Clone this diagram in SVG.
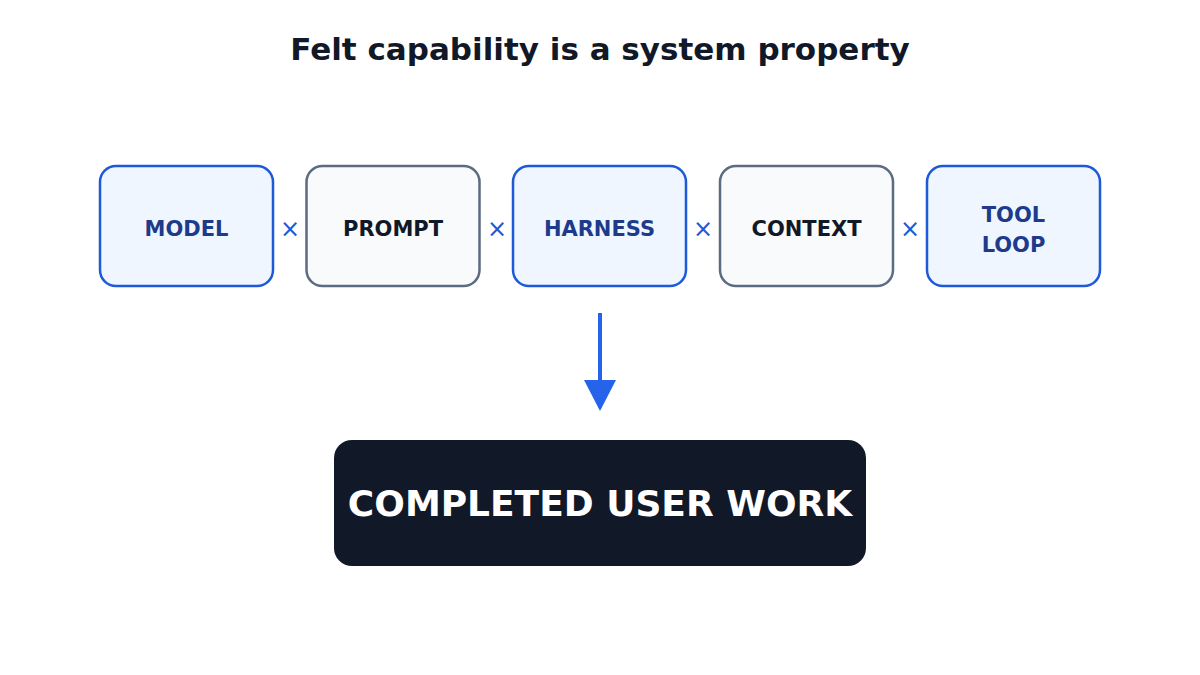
<svg xmlns="http://www.w3.org/2000/svg" width="1200" height="675" viewBox="0 0 1200 675">
<style>
text{font-family:"DejaVu Sans",sans-serif;font-weight:bold;text-anchor:middle}
.b rect{fill:#eff6ff;stroke:#1d5ad8;stroke-width:2.5}
.b text{fill:#1e3a8a;font-size:21px}
.g rect{fill:#f8fafc;stroke:#5b6b80;stroke-width:2.5}
.g text{fill:#111827;font-size:21px}
.x{fill:#1d5ad8;font-weight:normal;font-size:24px}
</style>
<rect width="1200" height="675" fill="#fff"/>
<text x="600" y="60" font-size="31" fill="#111827">Felt capability is a system property</text>
<g id="model" class="b"><rect x="100" y="166" width="173" height="120" rx="16"/><text x="186.5" y="236">MODEL</text></g>
<g id="prompt" class="g"><rect x="306.5" y="166" width="173" height="120" rx="16"/><text x="393" y="236">PROMPT</text></g>
<g id="harness" class="b"><rect x="513" y="166" width="173" height="120" rx="16"/><text x="599.5" y="236">HARNESS</text></g>
<g id="context" class="g"><rect x="720" y="166" width="173" height="120" rx="16"/><text x="806.5" y="236">CONTEXT</text></g>
<g id="toolloop" class="b"><rect x="927" y="166" width="173" height="120" rx="16"/><text x="1013.5" y="222">TOOL</text><text x="1013.5" y="252">LOOP</text></g>
<g id="ops"><text class="x" x="290" y="237">×</text><text class="x" x="497" y="237">×</text><text class="x" x="703" y="237">×</text><text class="x" x="910" y="237">×</text></g>
<g id="connectors"><line x1="600" y1="313" x2="600" y2="382" stroke="#2563eb" stroke-width="4"/><polygon points="584,380 616,380 600,411" fill="#2563eb"/></g>
<g id="result"><rect x="334" y="440" width="532" height="126" rx="18" fill="#111827"/><text x="600" y="516" font-size="36" fill="#fff">COMPLETED USER WORK</text></g>
</svg>
